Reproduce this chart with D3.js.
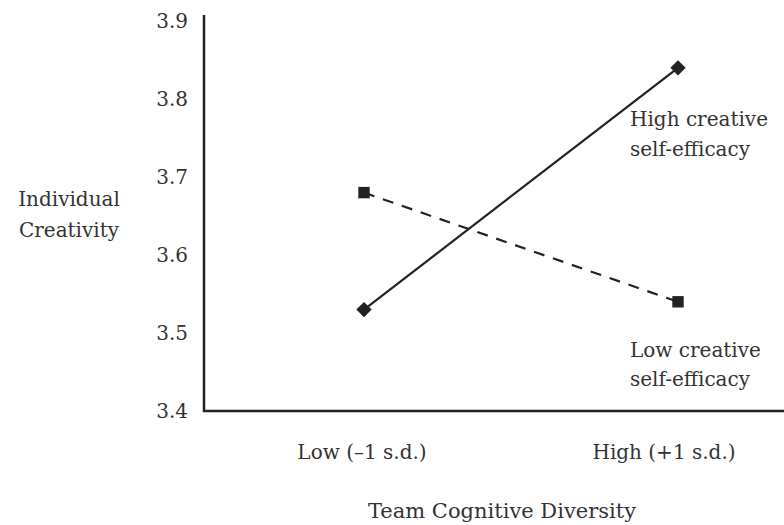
<!DOCTYPE html>
<html>
<head>
<meta charset="utf-8">
<script src="https://cdn.jsdelivr.net/npm/d3@7"></script>
<style>
  body { margin: 0; background: #fff; }
  text { font-family: "DejaVu Serif", "Liberation Serif", serif; fill: #333; }
</style>
</head>
<body>
<div id="chart"></div>
<script>
"use strict"

// data
let categories = ["Low (\u20131 s.d.)", "High (+1 s.d.)"];
let highCSE = [3.53, 3.84];
let lowCSE = [3.68, 3.54];
let yTicks = [3.4, 3.5, 3.6, 3.7, 3.8, 3.9];
let seriesNames = [["High creative", "self-efficacy"], ["Low creative", "self-efficacy"]];

let width = 784, height = 525;
let fontSize = "20px";

let svg = d3.select("#chart").append("svg")
    .attr("width", width)
    .attr("height", height);

let y = d3.scaleLinear()
    .domain([3.4, 3.9])
    .range([411, 21]);

let x = d3.scalePoint()
    .domain(categories)
    .range([364, 678]);

// y axis
let yAxis = d3.axisLeft(y)
    .tickValues(yTicks)
    .tickSize(0)
    .tickPadding(16)
    .tickFormat(d3.format(".1f"));

let gy = svg.append("g")
    .attr("transform", "translate(204,0)")
    .call(yAxis);
gy.select(".domain").remove();
gy.selectAll("text")
    .style("font-size", fontSize)
    .style("font-family", "DejaVu Serif")
    .attr("fill", "#333");

// axis lines
svg.append("line")
    .attr("x1", 204).attr("x2", 204)
    .attr("y1", 15).attr("y2", y(3.4) + 1)
    .attr("stroke", "#222").attr("stroke-width", 2.5);
svg.append("line")
    .attr("x1", 203).attr("x2", 784)
    .attr("y1", y(3.4)).attr("y2", y(3.4))
    .attr("stroke", "#222").attr("stroke-width", 2.5);

// x category labels
let labelShift = [-2, -14];
svg.selectAll(".cat").data(categories).enter().append("text")
    .attr("class", "cat")
    .attr("x", (d, i) => x(d) + labelShift[i])
    .attr("y", 459)
    .attr("text-anchor", "middle")
    .style("font-size", fontSize)
    .text(d => d);

// axis titles
svg.append("text")
    .attr("x", 502).attr("y", 518)
    .attr("text-anchor", "middle")
    .style("font-size", "21px")
    .text("Team Cognitive Diversity");

svg.append("text")
    .attr("x", 69).attr("y", 206)
    .attr("text-anchor", "middle")
    .style("font-size", fontSize)
    .text("Individual");
svg.append("text")
    .attr("x", 69).attr("y", 237)
    .attr("text-anchor", "middle")
    .style("font-size", fontSize)
    .text("Creativity");

// lines
let line = d3.line()
    .x((d, i) => x(categories[i]))
    .y(d => y(d));

svg.append("path")
    .datum(lowCSE)
    .attr("d", line)
    .attr("fill", "none")
    .attr("stroke", "#222")
    .attr("stroke-width", 2.2)
    .attr("stroke-dasharray", "11,9");

svg.append("path")
    .datum(highCSE)
    .attr("d", line)
    .attr("fill", "none")
    .attr("stroke", "#222")
    .attr("stroke-width", 2.2);

// markers
svg.selectAll(".diamond").data(highCSE).enter().append("path")
    .attr("class", "diamond")
    .attr("transform", (d, i) => "translate(" + x(categories[i]) + "," + y(d) + ")")
    .attr("d", d3.symbol().type(d3.symbolDiamond2).size(150))
    .attr("fill", "#222");

svg.selectAll(".square").data(lowCSE).enter().append("path")
    .attr("class", "square")
    .attr("transform", (d, i) => "translate(" + x(categories[i]) + "," + y(d) + ")")
    .attr("d", d3.symbol().type(d3.symbolSquare).size(130))
    .attr("fill", "#222");

// series labels
let labelY = [[126, 156], [357, 386]];
seriesNames.forEach(function(lines, i){
    lines.forEach(function(t, j){
        svg.append("text")
            .attr("x", 630)
            .attr("y", labelY[i][j])
            .style("font-size", fontSize)
            .text(t);
    });
});
</script>
</body>
</html>
